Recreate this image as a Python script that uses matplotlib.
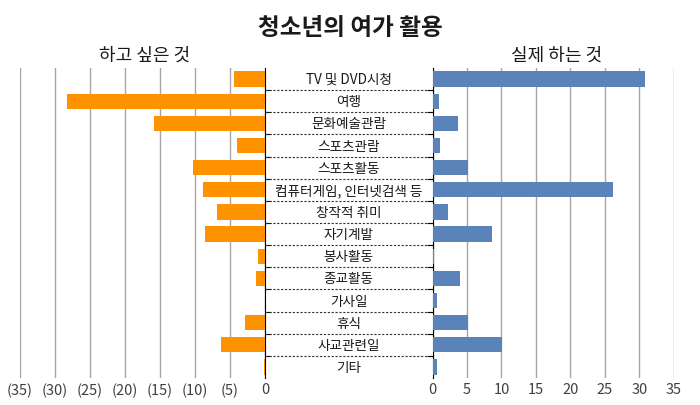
import numpy as np
import matplotlib
matplotlib.use("Agg")
import matplotlib.pyplot as plt

plt.rcParams['font.family'] = ['Noto Sans CJK KR', 'DejaVu Sans']

# 데이터
categories = ["TV 및 DVD시청", "여행", "문화예술관람", "스포츠관람", "스포츠활동",
              "컴퓨터게임, 인터넷검색 등", "창작적 취미", "자기계발", "봉사활동",
              "종교활동", "가사일", "휴식", "사교관련일", "기타"]
want = [4.5, 28.3, 15.8, 4.0, 10.3, 8.9, 6.9, 8.6, 0.95, 1.3, 0.0, 2.9, 6.3, 0.15]
actual = [30.9, 0.9, 3.7, 1.1, 5.1, 26.2, 2.2, 8.6, 0.15, 4.0, 0.6, 5.1, 10.1, 0.6]
left_ticks = [35, 30, 25, 20, 15, 10, 5, 0]
right_ticks = [0, 5, 10, 15, 20, 25, 30, 35]

orange = "#FF9200"
blue = "#5A83BA"
grid_c = "#A6A6A6"
txt_c = "#404040"

fig = plt.figure(figsize=(7, 4.06), dpi=100)
n = len(categories)
y = np.arange(n)
seps = np.arange(1, n) - 0.5  # 항목 경계

bottom, height = 0.0665, 0.7635
ax_l = fig.add_axes([0.0286, bottom, 0.35, height])
ax_m = fig.add_axes([0.3786, bottom, 0.2394, height])
ax_r = fig.add_axes([0.618, bottom, 0.3444, height])

# 왼쪽 (하고 싶은 것)
ax_l.barh(y, want, height=0.69, color=orange, zorder=3)
ax_l.set_xlim(35, 0)
ax_l.set_ylim(n - 0.5, -0.5)
ax_l.set_xticks(left_ticks)
ax_l.set_xticklabels([f"({t})" if t else "0" for t in left_ticks])
ax_l.xaxis.grid(True, color=grid_c, lw=1)
for s in ["top", "left", "bottom"]:
    ax_l.spines[s].set_visible(False)
ax_l.spines["right"].set_color("black")
ax_l.set_yticks(seps)
ax_l.set_yticklabels([])
ax_l.tick_params(axis="y", left=False, right=True, length=4, direction="out")
ax_l.tick_params(axis="x", length=0, labelsize=10.5, labelcolor=txt_c, pad=3)

# 오른쪽 (실제 하는 것)
ax_r.barh(y, actual, height=0.69, color=blue, zorder=3)
ax_r.set_xlim(0, 35)
ax_r.set_ylim(n - 0.5, -0.5)
ax_r.set_xticks(right_ticks)
ax_r.xaxis.grid(True, color=grid_c, lw=1)
for s in ["top", "right", "bottom"]:
    ax_r.spines[s].set_visible(False)
ax_r.spines["left"].set_color("black")
ax_r.set_yticks(seps)
ax_r.set_yticklabels([])
ax_r.tick_params(axis="y", left=True, length=4, direction="out")
ax_r.tick_params(axis="x", length=0, labelsize=10.5, labelcolor=txt_c, pad=3)

# 가운데 항목 이름
ax_m.set_xlim(0, 1)
ax_m.set_ylim(n - 0.5, -0.5)
ax_m.axis("off")
for i, c in enumerate(categories):
    ax_m.text(0.5, i, c, ha="center", va="center", fontsize=9.8, color="#1a1a1a")
for b in seps:
    ax_m.plot([0, 1], [b, b], ls=(0, (2, 1.5)), color="#333333", lw=0.8)

fig.text(0.5, 0.932, "청소년의 여가 활용", ha="center", va="center",
         fontsize=17, fontweight="bold", color="#1a1a1a")
fig.text(0.206, 0.862, "하고 싶은 것", ha="center", va="center", fontsize=13, color="#1a1a1a")
fig.text(0.795, 0.862, "실제 하는 것", ha="center", va="center", fontsize=13, color="#1a1a1a")

fig.savefig("out.png", dpi=100)
